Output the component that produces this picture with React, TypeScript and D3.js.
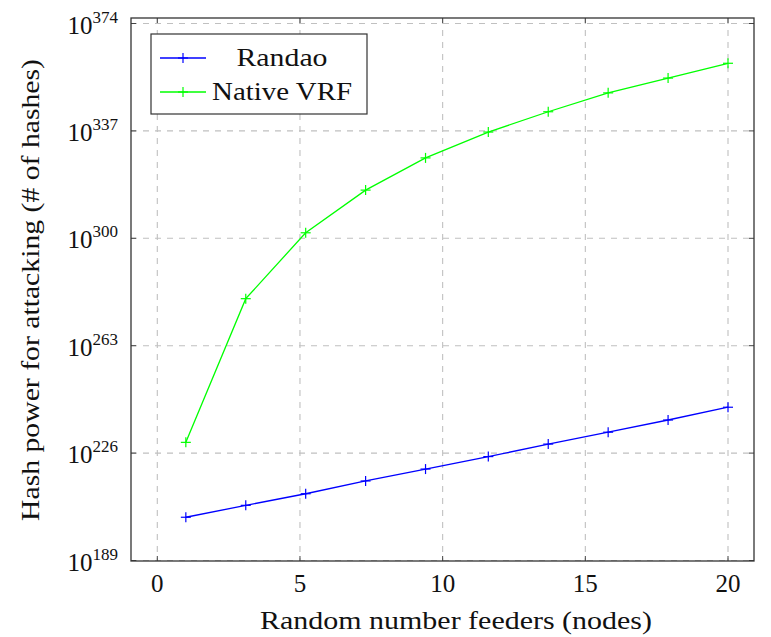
import { useRef, useEffect } from "react";
import * as d3 from "d3";

// x: number of random number feeders
const feeders = [1, 3.1, 5.2, 7.3, 9.4, 11.6, 13.7, 15.8, 17.9, 20];
// y values stored as log10 (exponents), they overflow doubles otherwise
const randaoExp = [203.9, 208.0, 212.0, 216.4, 220.5, 224.8, 229.1, 233.2, 237.4, 241.8];
const vrfExp = [229.7, 279.2, 301.9, 316.6, 327.7, 336.6, 343.6, 350.1, 355.2, 360.3];
const xTicks = [0, 5, 10, 15, 20];
const yTicks = [189, 226, 263, 300, 337, 374];

const series = [
  { name: "Randao", color: "#0000ff", values: randaoExp },
  { name: "Native VRF", color: "#00ff00", values: vrfExp },
];

export default function App() {
  const svgRef = useRef<SVGSVGElement>(null);

  useEffect(() => {
    const svg = d3.select(svgRef.current);
    svg.selectAll("*").remove();

    const width = 771;
    const height = 637;
    const frame = { left: 131, right: 754, top: 18, bottom: 561 };
    const font = "Liberation Serif";

    const x = d3.scaleLinear().domain([0, 20]).range([157.3, 728]);
    const y = d3.scaleLinear().domain([189, 374]).range([560.5, 23.5]);

    svg.attr("width", width).attr("height", height).attr("font-family", font).attr("fill", "#111");

    // grid
    const grid = svg.append("g").attr("stroke", "#c0c0c0").attr("stroke-width", 1.1).attr("stroke-dasharray", "6,6");
    xTicks.forEach((t) => {
      grid.append("line").attr("x1", x(t)).attr("x2", x(t)).attr("y1", frame.top).attr("y2", frame.bottom);
    });
    yTicks.forEach((t) => {
      grid.append("line").attr("x1", frame.left).attr("x2", frame.right).attr("y1", y(t)).attr("y2", y(t));
    });

    // tick marks on all sides
    const ticks = svg.append("g").attr("stroke", "#444").attr("stroke-width", 1);
    xTicks.forEach((t) => {
      ticks.append("line").attr("x1", x(t)).attr("x2", x(t)).attr("y1", frame.bottom).attr("y2", frame.bottom - 5);
      ticks.append("line").attr("x1", x(t)).attr("x2", x(t)).attr("y1", frame.top).attr("y2", frame.top + 5);
    });
    yTicks.forEach((t) => {
      ticks.append("line").attr("x1", frame.left).attr("x2", frame.left + 5).attr("y1", y(t)).attr("y2", y(t));
      ticks.append("line").attr("x1", frame.right).attr("x2", frame.right - 5).attr("y1", y(t)).attr("y2", y(t));
    });

    // frame
    svg
      .append("rect")
      .attr("x", frame.left)
      .attr("y", frame.top)
      .attr("width", frame.right - frame.left)
      .attr("height", frame.bottom - frame.top)
      .attr("fill", "none")
      .attr("stroke", "#333")
      .attr("stroke-width", 1.3);

    // x tick labels
    xTicks.forEach((t) => {
      svg
        .append("text")
        .attr("x", x(t))
        .attr("y", 592)
        .attr("text-anchor", "middle")
        .attr("font-size", 25)
        .text(t);
    });

    // y tick labels 10^n
    yTicks.forEach((t) => {
      const txt = svg
        .append("text")
        .attr("x", 118)
        .attr("y", y(t) + 10)
        .attr("text-anchor", "end")
        .attr("font-size", 25);
      txt.append("tspan").text("10");
      txt.append("tspan").attr("font-size", 17).attr("dy", -11).text(t);
    });

    // lines and markers
    const line = d3
      .line<number>()
      .x((_, i) => x(feeders[i]))
      .y((d) => y(d));

    const plus = (g: any, cx: number, cy: number, color: string) => {
      g.append("line").attr("x1", cx - 5).attr("x2", cx + 5).attr("y1", cy).attr("y2", cy).attr("stroke", color).attr("stroke-width", 1.2);
      g.append("line").attr("x1", cx).attr("x2", cx).attr("y1", cy - 5).attr("y2", cy + 5).attr("stroke", color).attr("stroke-width", 1.2);
    };

    series.forEach((s) => {
      svg
        .append("path")
        .attr("d", line(s.values))
        .attr("fill", "none")
        .attr("stroke", s.color)
        .attr("stroke-width", 1.3);
      const g = svg.append("g");
      s.values.forEach((v, i) => plus(g, x(feeders[i]), y(v), s.color));
    });

    // legend
    const lg = svg.append("g");
    lg.append("rect")
      .attr("x", 151)
      .attr("y", 34)
      .attr("width", 216)
      .attr("height", 80)
      .attr("fill", "white")
      .attr("stroke", "#333")
      .attr("stroke-width", 1.2);
    series.forEach((s, i) => {
      const cy = 58 + i * 34;
      lg.append("line").attr("x1", 160).attr("x2", 206).attr("y1", cy).attr("y2", cy).attr("stroke", s.color).attr("stroke-width", 1.3);
      plus(lg, 183, cy, s.color);
      lg.append("text")
        .attr("x", 282)
        .attr("y", cy + 8)
        .attr("text-anchor", "middle")
        .attr("font-size", 26)
        .attr("textLength", i === 0 ? 91 : 140)
        .attr("lengthAdjust", "spacingAndGlyphs")
        .text(s.name);
    });

    // axis labels
    svg
      .append("text")
      .attr("x", 456)
      .attr("y", 629)
      .attr("text-anchor", "middle")
      .attr("font-size", 26)
      .attr("textLength", 392)
      .attr("lengthAdjust", "spacingAndGlyphs")
      .text("Random number feeders (nodes)");

    svg
      .append("text")
      .attr("transform", "translate(39,290) rotate(-90)")
      .attr("text-anchor", "middle")
      .attr("font-size", 26)
      .attr("textLength", 462)
      .attr("lengthAdjust", "spacingAndGlyphs")
      .text("Hash power for attacking (# of hashes)");
  }, []);

  return <svg ref={svgRef} style={{ position: "absolute", left: 0, top: 0 }} />;
}
